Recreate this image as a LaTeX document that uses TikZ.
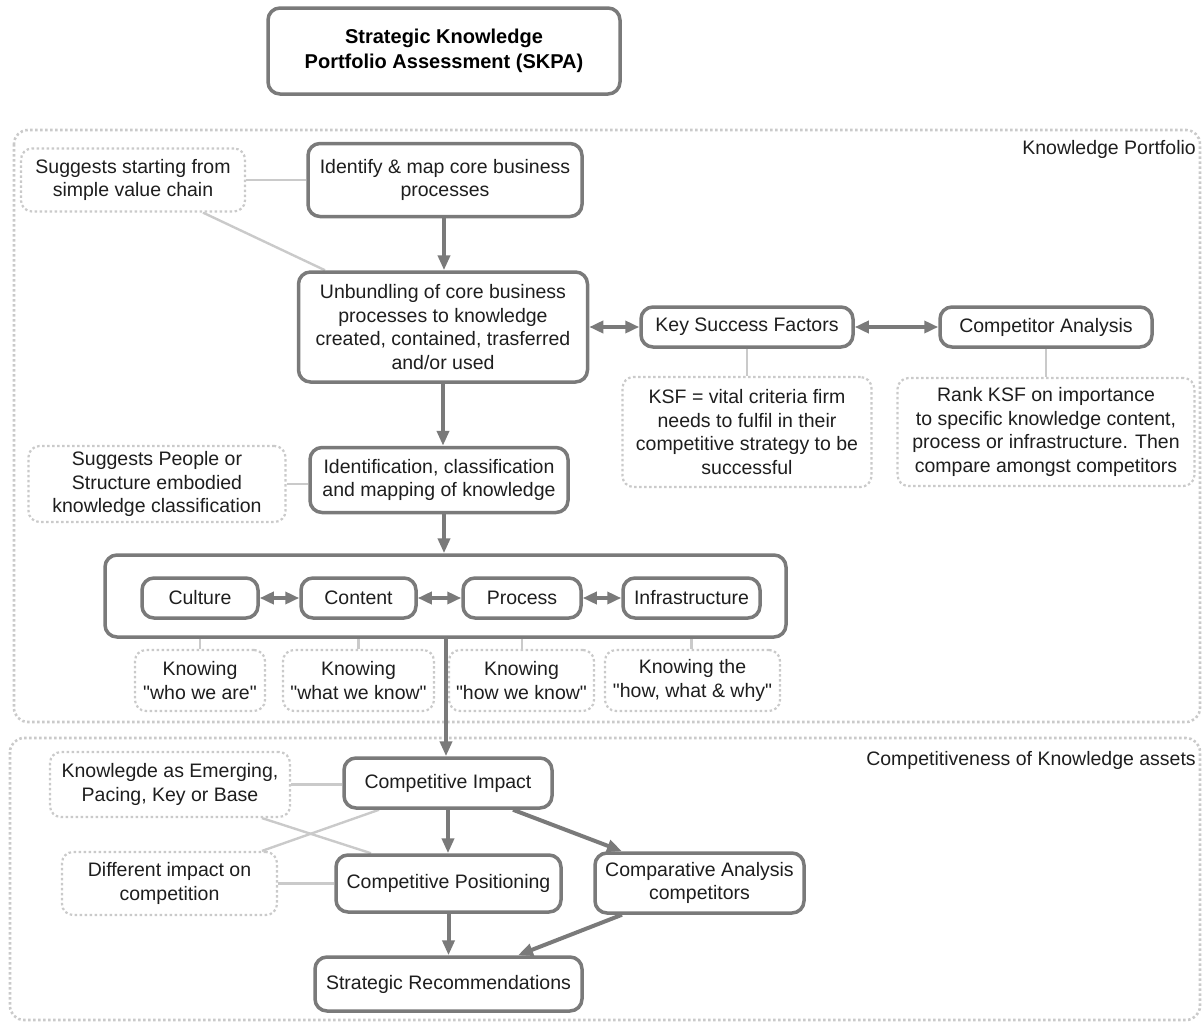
\documentclass[tikz,border=0pt]{standalone}
\usepackage{fontspec}
\setmainfont{Liberation Sans}
% a family without TeX ligatures, so that " stays a straight quote
\newfontfamily\plainsans{Liberation Sans}
\usetikzlibrary{arrows.meta,backgrounds}
\definecolor{boxgray}{HTML}{7A7A7A}
\definecolor{lightgray}{HTML}{CACACA}
\definecolor{inkgray}{HTML}{1E1E1E}
\tikzset{
  txt/.style={font=\plainsans\fontsize{19.5}{23.5}\selectfont, text=inkgray, align=center, inner sep=0pt},
  box/.style={txt, draw=boxgray, line width=3.5pt, rounded corners=12pt, fill=white},
  note/.style={txt, draw=lightgray, line width=2.2pt, dash pattern=on 2.5pt off 2.5pt, rounded corners=11pt, fill=white},
  region/.style={draw=lightgray, line width=2.6pt, dash pattern=on 2.5pt off 2.5pt, rounded corners=14pt},
  link/.style={draw=lightgray, line width=2.4pt},
  arr/.style={draw=boxgray, line width=4pt, -{Triangle[length=15pt,width=12pt]}},
  darr/.style={draw=boxgray, line width=4pt, {Triangle[length=14pt,width=12pt]}-{Triangle[length=14pt,width=12pt]}},
}
\begin{document}
\begin{tikzpicture}[x=1pt,y=-1pt]
\useasboundingbox (0,0) rectangle (1203,1023);

% title
\node[box, font=\fontsize{20}{24.5}\selectfont\bfseries, text=black, minimum width=352pt, minimum height=86pt] (title) at (444,51) {Strategic Knowledge\\Portfolio Assessment (SKPA)};

% knowledge portfolio part
\node[note, minimum width=224pt, minimum height=63pt] (sugg1) at (133,180) {Suggests starting from\\simple value chain};
\node[box, minimum width=274pt, minimum height=73pt] (ident) at (445,180) {Identify \& map core business\\processes};
\node[box, minimum width=289pt, minimum height=110pt] (unb) at (443,327) {Unbundling of core business\\processes to knowledge\\created, contained, trasferred\\and/or used};
\node[box, minimum width=212pt, minimum height=40pt] (ksf) at (747,327) {Key Success Factors};
\node[box, minimum width=212pt, minimum height=40pt] (comp) at (1046,327) {Competitor Analysis};
\node[note, minimum width=249pt, minimum height=110pt] (ksfnote) at (747,432) {KSF = vital criteria firm\\needs to fulfil in their\\competitive strategy to be\\successful};
\node[note, minimum width=297pt, minimum height=108pt] (compnote) at (1046,432) {Rank KSF on importance\\to specific knowledge content,\\process or infrastructure. Then\\compare amongst competitors};
\node[note, minimum width=257pt, minimum height=76pt] (sugg2) at (157,484) {Suggests People or\\Structure embodied\\knowledge classification};
\node[box, minimum width=258pt, minimum height=65pt] (iden) at (439,480) {Identification, classification\\and mapping of knowledge};

\node[box, minimum width=681pt, minimum height=82pt] (cont) at (445.5,596) {};
\node[box, minimum width=116pt, minimum height=40pt] (culture) at (200,598) {Culture};
\node[box, minimum width=115pt, minimum height=40pt] (content) at (358.5,598) {Content};
\node[box, minimum width=118pt, minimum height=40pt] (process) at (522,598) {Process};
\node[box, minimum width=137pt, minimum height=40pt] (infra) at (691.5,598) {Infrastructure};

\node[note, minimum width=130pt, minimum height=61pt] (k1) at (200,680.5) {Knowing\\"who we are"};
\node[note, minimum width=151pt, minimum height=61pt] (k2) at (358.5,680.5) {Knowing\\"what we know"};
\node[note, minimum width=145pt, minimum height=61pt] (k3) at (521.5,680.5) {Knowing\\"how we know"};
\node[note, minimum width=175pt, minimum height=61pt] (k4) at (692.5,680.5) {Knowing the\\"how, what \& why"};

% competitiveness part
\node[note, minimum width=240pt, minimum height=65pt] (kn) at (170,784.5) {Knowlegde as Emerging,\\Pacing, Key or Base};
\node[box, minimum width=208pt, minimum height=50pt] (impact) at (448,783) {Competitive Impact};
\node[note, minimum width=215pt, minimum height=63pt] (diff) at (169.5,883.5) {Different impact on\\competition};
\node[box, minimum width=225pt, minimum height=57pt] (pos) at (448.5,883.5) {Competitive Positioning};
\node[box, minimum width=209pt, minimum height=60pt] (compan) at (699.5,883) {Comparative Analysis\\competitors};
\node[box, minimum width=267pt, minimum height=54pt] (strat) at (448.5,984) {Strategic Recommendations};

% region labels
\node[txt, anchor=east] (lab1) at (1196,149) {Knowledge Portfolio};
\node[txt, anchor=east] (lab2) at (1196,760) {Competitiveness of Knowledge assets};

% regions and thin annotation links behind the boxes
\begin{scope}[on background layer]
\draw[region] (14,130) rectangle (1200,722);
\draw[region] (10,738) rectangle (1200,1020);
\draw[link] (sugg1.east) -- (ident.west |- sugg1.east);
\draw[link] (sugg1.south -| 203,0) -- (unb.north -| 325,0);
\draw[link] (ksf.south) -- (ksfnote.north -| ksf.south);
\draw[link] (comp.south) -- (compnote.north -| comp.south);
\draw[link] (sugg2.east) -- (iden.west |- sugg2.east);
\draw[link] (culture.south) -- (k1.north -| culture.south);
\draw[link] (content.south) -- (k2.north -| content.south);
\draw[link] (process.south) -- (k3.north -| process.south);
\draw[link] (infra.south) -- (k4.north -| infra.south);
\draw[link] (kn.east) -- (impact.west |- kn.east);
\draw[link] (kn.south -| 262,0) -- (pos.north -| 371,0);
\draw[link] (diff.north -| 262,0) -- (impact.south -| 379,0);
\draw[link] (diff.east) -- (pos.west |- diff.east);
\end{scope}

% flow arrows
\draw[arr] (ident.south -| 444,0) -- (unb.north -| 444,0);
\draw[darr] (unb.east) -- (ksf.west);
\draw[darr] (ksf.east) -- (comp.west);
\draw[arr] (unb.south) -- (iden.north -| unb.south);
\draw[arr] (iden.south -| 444,0) -- (cont.north -| 444,0);
\draw[darr] (culture.east) -- (content.west);
\draw[darr] (content.east) -- (process.west);
\draw[darr] (process.east) -- (infra.west);
\draw[arr] (cont.south -| 446,0) -- (impact.north -| 446,0);
\draw[arr] (impact.south) -- (pos.north -| impact.south);
\draw[arr] (impact.south -| 513,0) -- (compan.north -| 622,0);
\draw[arr] (pos.south) -- (strat.north -| pos.south);
\draw[arr] (compan.south -| 622,0) -- (strat.north -| 518,0);
\end{tikzpicture}
\end{document}
